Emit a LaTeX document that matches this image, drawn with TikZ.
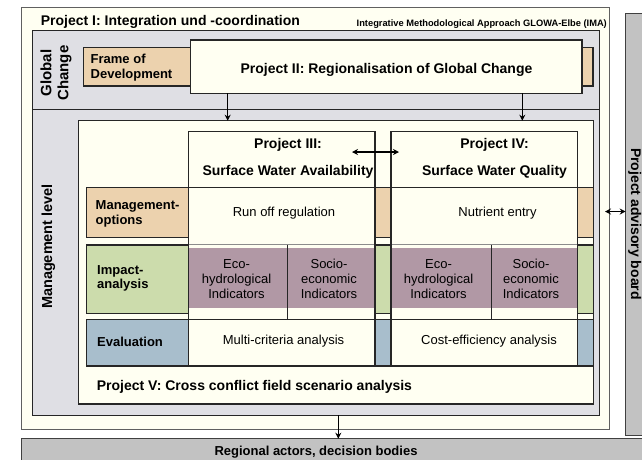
\documentclass[tikz,border=0pt]{standalone}
\usepackage{fontspec}
\setmainfont{Liberation Sans}
\usetikzlibrary{arrows.meta,calc}

\definecolor{cream}{HTML}{FFFFF2}
\definecolor{panelgray}{HTML}{DFDFE4}
\definecolor{cTan}{HTML}{ECD2AE}
\definecolor{cGreen}{HTML}{CCDCAC}
\definecolor{cBlue}{HTML}{A8BECC}
\definecolor{cMauve}{HTML}{B198A5}
\definecolor{cBoard}{HTML}{C2C2C2}
\definecolor{frameline}{HTML}{606060}

\tikzset{
  box/.style={draw=black!85, line width=1.1pt, inner sep=0pt, outer sep=0pt, anchor=north west},
  rule/.style={black!85, line width=1.1pt},
  faint/.style={black!45, line width=0.7pt},
  tb/.style={font=\fontsize{14}{17}\selectfont\bfseries, inner sep=0pt},
  lb/.style={font=\fontsize{13}{14.5}\selectfont\bfseries, inner sep=0pt, align=left},
  lr/.style={font=\fontsize{13}{15}\selectfont, inner sep=0pt, align=center},
  arr/.style={-{Stealth[length=6pt,width=6pt]}, line width=1.4pt},
  dbl/.style={{Stealth[length=6pt,width=6pt]}-{Stealth[length=6pt,width=6pt]}, line width=1.4pt},
}

\begin{document}
\begin{tikzpicture}[x=1pt,y=-1pt]
\useasboundingbox[fill=white] (0,0) rectangle (642,459);

% Project I frame and the two-level panel
\node[box, draw=frameline, fill=cream, minimum width=588, minimum height=422] (projI) at (21.5,7.5) {};
\node[box, fill=panelgray, minimum width=567, minimum height=384.6] (panel) at (32.3,30.7) {};
\coordinate (divy) at (0,109.3);
\draw[rule] (panel.west |- divy) -- (panel.east |- divy);

\node[tb, anchor=base west] (titleI) at (40.7,25) {Project I: Integration und -coordination};
\node[font=\fontsize{9.3}{11}\selectfont\bfseries, inner sep=0pt, anchor=base east] (ima) at (607,26) {Integrative Methodological Approach GLOWA-Elbe (IMA)};

% Global change level
\node[rotate=90, align=center, font=\fontsize{15}{17}\selectfont\bfseries, inner sep=0pt] (gclabel) at (56,73) {Global\\Change};
\node[box, fill=cTan, minimum width=509.7, minimum height=38.3] (frame) at (83.3,47.7) {};
\node[lb, anchor=west] (framet) at (90.5,67.5) {Frame of\\Development};
\node[box, fill=cream, minimum width=391.5, minimum height=53.3] (projII) at (190.5,40) {};
\node[tb] (projIIt) at (386.5,70) {Project II: Regionalisation of Global Change};

% Management level
\node[rotate=90, font=\fontsize{14.5}{17}\selectfont\bfseries, inner sep=0pt] (mlabel) at (48.3,246.5) {Management level};
\node[box, fill=cream, minimum width=515, minimum height=283.3] (projV) at (78.3,120.7) {};
\node[box, fill=cTan, minimum width=506.6, minimum height=49.6] (mgmt) at (86.7,187.7) {};
\node[box, fill=cGreen, minimum width=506.6, minimum height=68.3] (impact) at (86.7,245) {};
\node[box, fill=cBlue, minimum width=506.6, minimum height=46.7] (eval) at (86.7,319.3) {};

\node[lb, anchor=west] (mgmtt) at (95.5,214) {Management-\\options};
\node[lb, anchor=west] (impactt) at (97,278.4) {Impact-\\analysis};
\node[lb, anchor=west] (evalt) at (97,342) {Evaluation};
\node[tb, anchor=base west] (projVt) at (96.7,390) {Project V: Cross conflict field scenario analysis};

% Project III column
\node[box, fill=cream, minimum width=186.7, minimum height=234.3] (p3) at (188.3,131.7) {};
\node[box, draw=none, fill=cMauve, minimum width=185.8, minimum height=60] (p3ind) at (188.75,247.7) {};
\draw[rule] (188.3,187.7) -- (375,187.7);
\draw[faint] (188.3,244.5) -- (375,244.5);
\draw[rule] (188.3,319.3) -- (375,319.3);
\draw[rule] (287.3,244.5) -- (287.3,319.3);
\draw[rule] (p3.north west) rectangle (p3.south east);
\node[tb, align=center, font=\fontsize{14}{27}\selectfont\bfseries] (p3t) at (288,158.5) {Project III:\\Surface Water Availability};
\node[lr] (p3run) at (284,212.7) {Run off regulation};
\node[lr] (p3eco) at (236.5,279.3) {Eco-\\hydrological\\Indicators};
\node[lr] (p3soc) at (329,279.3) {Socio-\\economic\\Indicators};
\node[lr] (p3mca) at (283.5,340.7) {Multi-criteria analysis};

% Project IV column
\node[box, fill=cream, minimum width=186.7, minimum height=234.3] (p4) at (391,131.7) {};
\node[box, draw=none, fill=cMauve, minimum width=185.8, minimum height=60] (p4ind) at (391.45,247.7) {};
\draw[rule] (391,187.7) -- (577.7,187.7);
\draw[faint] (391,244.5) -- (577.7,244.5);
\draw[rule] (391,319.3) -- (577.7,319.3);
\draw[rule] (491.7,244.5) -- (491.7,319.3);
\draw[rule] (p4.north west) rectangle (p4.south east);
\node[tb, align=center, font=\fontsize{14}{27}\selectfont\bfseries] (p4t) at (494.5,158.5) {Project IV:\\Surface Water Quality};
\node[lr] (p4nut) at (497.5,212.7) {Nutrient entry};
\node[lr] (p4eco) at (438.5,279.3) {Eco-\\hydrological\\Indicators};
\node[lr] (p4soc) at (531,279.3) {Socio-\\economic\\Indicators};
\node[lr] (p4cea) at (489,340.7) {Cost-efficiency analysis};

% Advisory board and regional actors
\node[box, draw=black!75, fill=cBoard, minimum width=30, minimum height=422] (adv) at (625.7,13.3) {};
\node[rotate=-90, font=\fontsize{14}{17}\selectfont\bfseries, inner sep=0pt] (advt) at (634.8,224) {Project advisory board};
\node[box, draw=black!75, fill=cBoard, minimum width=640, minimum height=40] (ra) at (21.7,438.7) {};
\node[lb, anchor=base] (rat) at (316,455) {Regional actors, decision bodies};

% Connectors
\draw[arr] ($(projII.south west)+(37.2,0)$) -- ($(projV.north west)+(149.4,0)$);
\draw[arr] ($(projII.south west)+(331.8,0)$) -- ($(projV.north west)+(444,0)$);
\draw[dbl] ($(p3.north east)+(-23,20.3)$) -- ($(p4.north west)+(8,20.3)$);
\draw[dbl] ($(projI.east)+(-4.5,-7)$) -- ($(adv.west)+(0,-12.8)$);
\draw[arr] ($(panel.south west)+(306,0)$) -- ($(ra.north west)+(316.6,0)$);
\end{tikzpicture}
\end{document}
